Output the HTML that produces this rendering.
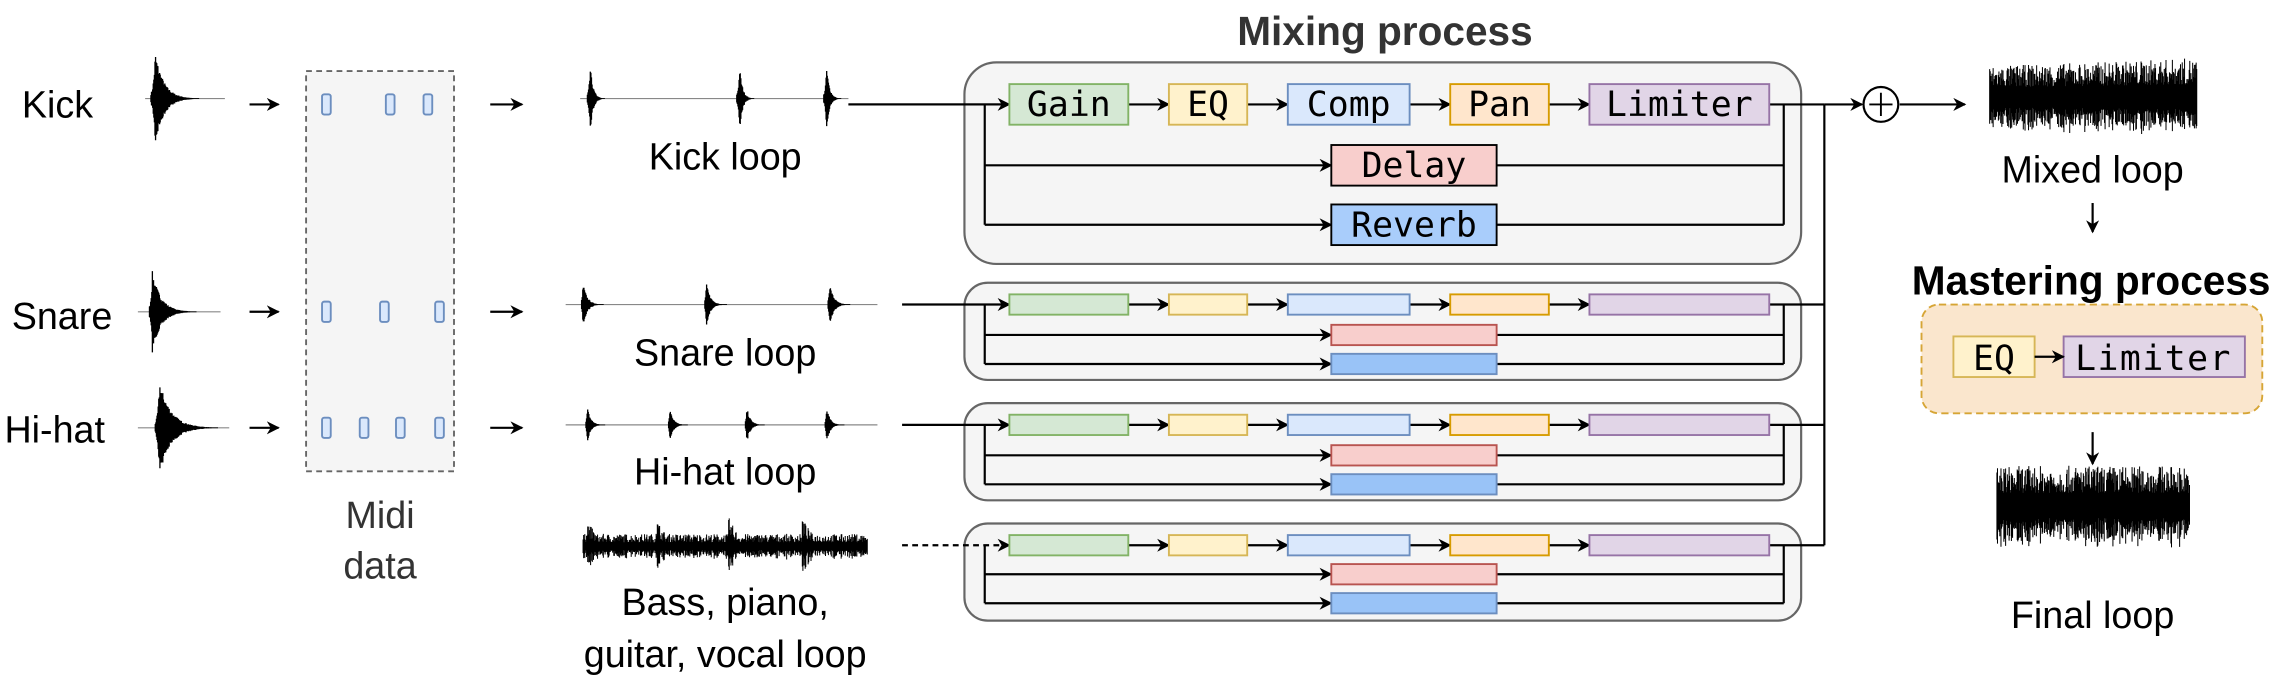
<!DOCTYPE html>
<html><head><meta charset="utf-8"><style>
html,body{margin:0;padding:0;background:#fff}
svg{display:block}
text{font-family:"Liberation Sans",sans-serif}
.m{font-family:"DejaVu Sans Mono","Liberation Mono",monospace;font-size:24px}
</style></head><body>
<svg id="s" width="2274" height="683" viewBox="0 0 1568 471" xmlns="http://www.w3.org/2000/svg">
<defs><marker id="a" viewBox="0 0 10 10" refX="9" refY="5" markerWidth="9" markerHeight="9" orient="auto" markerUnits="userSpaceOnUse"><path d="M0,0 L10,5 L0,10 L3,5z" fill="#000"/></marker></defs>
<g font-size="26" fill="#000">
<text x="15" y="81">Kick</text>
<text x="8" y="227">Snare</text>
<text x="3" y="305">Hi-hat</text>
<text x="500" y="117" text-anchor="middle">Kick loop</text>
<text x="500" y="252" text-anchor="middle">Snare loop</text>
<text x="500" y="334" text-anchor="middle">Hi-hat loop</text>
<text x="500" y="424" text-anchor="middle">Bass, piano,</text>
<text x="500" y="460" text-anchor="middle">guitar, vocal loop</text>
<text x="262" y="364" text-anchor="middle" fill="#333">Midi</text>
<text x="262" y="399" text-anchor="middle" fill="#333">data</text>
<text x="1443" y="126" text-anchor="middle">Mixed loop</text>
<text x="1443" y="433" text-anchor="middle">Final loop</text>
</g>
<text x="955" y="31" font-size="28" font-weight="bold" fill="#333" text-anchor="middle">Mixing process</text>
<text x="1442" y="203" font-size="28" font-weight="bold" text-anchor="middle">Mastering process</text>
<rect x="211" y="49" width="102" height="276" fill="#f5f5f5" stroke="#666" stroke-dasharray="4,3" stroke-width="1.3"/>
<g id="notes" fill="#dae8fc" stroke="#6c8ebf" stroke-width="1.3"></g>
<g stroke="#000" stroke-width="1.5" fill="none" marker-end="url(#a)">
<line x1="172" y1="72" x2="192" y2="72"/><line x1="172" y1="215" x2="192" y2="215"/><line x1="172" y1="295" x2="192" y2="295"/>
<line x1="338" y1="72" x2="360" y2="72"/><line x1="338" y1="215" x2="360" y2="215"/><line x1="338" y1="295" x2="360" y2="295"/>
<line x1="1310" y1="72" x2="1355" y2="72"/>
<line x1="1443" y1="140" x2="1443" y2="160"/>
<line x1="1443" y1="298" x2="1443" y2="320"/>
<line x1="1258" y1="72" x2="1284" y2="72"/>
</g>
<circle cx="1297" cy="72" r="12" fill="#fff" stroke="#000" stroke-width="1.5"/>
<path d="M1289,72H1305M1297,64V80" stroke="#000" stroke-width="1.3"/>
<g id="mix"></g>
<rect x="1325" y="210" width="235" height="75" rx="12" fill="#fae6cd" stroke="#d6a535" stroke-dasharray="5,3" stroke-width="1.3"/>
<rect x="1347" y="232" width="56" height="28" fill="#fff2cc" stroke="#d6b656" stroke-width="1.3"/>
<rect x="1423" y="232" width="125" height="28" fill="#e1d5e7" stroke="#9673a6" stroke-width="1.3"/>
<text class="m" x="1375" y="255" text-anchor="middle">EQ</text>
<text class="m" x="1485" y="255" text-anchor="middle" letter-spacing="1">Limiter</text>
<line x1="1403" y1="246" x2="1423" y2="246" stroke="#000" stroke-width="1.5" marker-end="url(#a)"/>
<g id="waves" fill="none" stroke="#000" stroke-width="0.8"></g>
</svg>
<script>
var NS="http://www.w3.org/2000/svg";
function el(p,t,a,txt){var e=document.createElementNS(NS,t);for(var k in a)e.setAttribute(k,a[k]);if(txt)e.textContent=txt;p.appendChild(e);return e;}
var notes=document.getElementById('notes');
[[72,[222,266,292]],[215,[222,262,300]],[295,[222,248,273,300]]].forEach(function(r){r[1].forEach(function(x){el(notes,'rect',{x:x,y:r[0]-7,width:6,height:14,rx:1.5});});});
var mix=document.getElementById('mix');
var seed=7;function rnd(){seed=(seed*16807)%2147483647;return seed/2147483647;}
var C=[['#d5e8d4','#82b366'],['#fff2cc','#d6b656'],['#dae8fc','#6c8ebf'],['#ffe6cc','#d79b00'],['#e1d5e7','#9673a6']];
var X=[[696,778],[806,860],[888,972],[1000,1068],[1096,1220]];
function chain(y0,y1,ys,bh,labels,dash,inx){
 el(mix,'rect',{x:665,y:y0,width:577,height:y1-y0,rx:bh>20?22:16,fill:'#f5f5f5',stroke:'#666','stroke-width':1.5});
 var ym=ys[0],yd=ys[1],yr=ys[2];
 var g=el(mix,'g',{stroke:'#000','stroke-width':1.5,fill:'none'});
 el(g,'line',{x1:inx,y1:ym,x2:696,y2:ym,'marker-end':'url(#a)','stroke-dasharray':dash?'4,3':'none'});
 for(var i=0;i<4;i++)el(g,'line',{x1:X[i][1],y1:ym,x2:X[i+1][0],y2:ym,'marker-end':'url(#a)'});
 el(g,'path',{d:'M679,'+ym+'V'+yr});
 el(g,'line',{x1:679,y1:yd,x2:918,y2:yd,'marker-end':'url(#a)'});
 el(g,'line',{x1:679,y1:yr,x2:918,y2:yr,'marker-end':'url(#a)'});
 el(g,'path',{d:'M1220,'+ym+'H1258M1230,'+ym+'V'+yr+'M1032,'+yd+'H1230M1032,'+yr+'H1230'});
 for(var i=0;i<5;i++)el(mix,'rect',{x:X[i][0],y:ym-bh/2,width:X[i][1]-X[i][0],height:bh,fill:C[i][0],stroke:C[i][1],'stroke-width':1.3});
 el(mix,'rect',{x:918,y:yd-bh/2,width:114,height:bh,fill:'#f8cecc',stroke:labels?'#000':'#b85450','stroke-width':1.3});
 el(mix,'rect',{x:918,y:yr-bh/2,width:114,height:bh,fill:labels?'#a9cdfb':'#99c3f7',stroke:labels?'#000':'#6c8ebf','stroke-width':1.3});
 if(labels){var L=['Gain','EQ','Comp','Pan','Limiter'];
  for(var i=0;i<5;i++)el(mix,'text',{'class':'m',x:(X[i][0]+X[i][1])/2,y:ym+8,'text-anchor':'middle'},L[i]);
  el(mix,'text',{'class':'m',x:975,y:yd+8,'text-anchor':'middle'},'Delay');
  el(mix,'text',{'class':'m',x:975,y:yr+8,'text-anchor':'middle'},'Reverb');}
}
chain(43,182,[72,114,155],28,true,false,585);
chain(195,262,[210,231,251],14,false,false,622);
chain(278,345,[293,314,334],14,false,false,622);
chain(361,428,[376,396,416],14,false,true,622);
el(mix,'path',{d:'M1258,72V376',stroke:'#000','stroke-width':1.5,fill:'none'});
var w=document.getElementById('waves');
function hit(x,cy,h,len,lead){var s='';for(var i=-lead;i<len;i+=0.4){var e=i<0?Math.exp(i/(lead*0.35+0.3)):Math.exp(-i/(len*0.2));var a=h*e*(0.7+0.3*rnd());if(a<0.3)a=0.3;s+='M'+(x+i).toFixed(1)+','+(cy-a).toFixed(1)+'V'+(cy+a).toFixed(1);}return s;}
function perc(x0,x1,cy,peaks,h,len,lead){el(w,'path',{d:'M'+x0+','+cy+'H'+x1,stroke:'#888','stroke-width':0.8});var d='';peaks.forEach(function(p){d+=hit(p,cy,h,len,lead);});el(w,'path',{d:d,'stroke-width':0.9});}
perc(100,155,68,[107],32,30,3);
perc(95,152,215,[105],28,30,2);
perc(95,158,295,[110],32,40,3);
perc(400,585,68,[407,510,570],22,10,2);
perc(390,605,210,[402,487,572],15,14,1);
perc(390,605,293,[405,462,515,570],12,12,1);
el(w,'path',{d:'M585,72H695',stroke:'#000','stroke-width':1.5});
function noise(x0,x1,cy,h,mod){var d='';for(var x=x0;x<=x1;x+=0.4){var a=h*mod(x)*(0.35+0.65*Math.pow(rnd(),1.3));d+='M'+x.toFixed(1)+','+(cy-a).toFixed(1)+'V'+(cy+a*(0.7+0.3*rnd())).toFixed(1);}el(w,'path',{d:d,'stroke-width':0.7});}
noise(402,598,377,22,function(x){var m=0.4;[404,452,502,553].forEach(function(p){var t=x-p;if(t>=0)m=Math.max(m,Math.exp(-t/8));});return m;});
noise(1372,1515,68,28,function(x){return 0.8+0.2*((x-1372)/143);});
noise(1377,1510,350,32,function(x){return 0.9;});
</script>
</body></html>
